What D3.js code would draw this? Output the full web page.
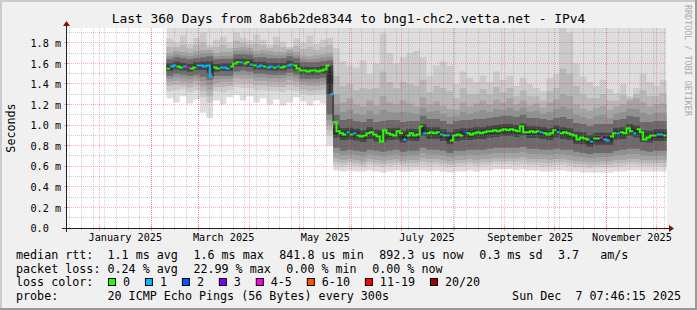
<!DOCTYPE html>
<html>
<head>
<meta charset="utf-8">
<script src="https://cdn.jsdelivr.net/npm/d3@7"></script>
<style>
  body { margin: 0; background: #f0f0f0; }
  svg text { font-family: "DejaVu Sans Mono", monospace; white-space: pre; }
</style>
</head>
<body>
<svg id="chart" width="697" height="310" xml:space="preserve"></svg>
<script>
// Step 1: chart values
//= ================================
var graphEnd = new Date(2025, 11, 7, 7, 46, 15);
var graphStart = d3.timeDay.offset(graphEnd, -360);

// first sample, median step and smoke step in days
var firstDay = new Date(2025, 1, 10);
var medianStep = 2;
var smokeStep = 4;

// median rtt in ms, one value every 2 days
var medianRtt = [
  1.55,1.57,1.58,1.57,1.56,1.57,1.56,1.55,1.56,1.58,
  1.58,1.57,1.58,1.47,1.56,1.55,1.56,1.56,1.55,1.57,
  1.60,1.61,1.61,1.60,1.61,1.59,1.58,1.57,1.58,1.57,
  1.56,1.57,1.56,1.57,1.56,1.57,1.58,1.59,1.58,1.55,
  1.53,1.53,1.52,1.53,1.53,1.52,1.53,1.54,1.58,1.30,
  1.03,0.94,0.92,0.91,0.93,0.91,0.92,0.90,0.89,0.90,
  0.92,0.93,0.91,0.89,0.84,0.95,0.92,0.91,0.90,0.94,
  0.92,0.86,0.90,0.92,0.90,0.91,0.99,0.92,0.92,0.93,
  0.92,0.93,0.91,0.90,0.90,0.85,0.90,0.91,0.90,0.93,
  0.92,0.91,0.92,0.93,0.92,0.93,0.94,0.94,0.95,0.94,
  0.95,0.96,0.95,0.96,0.95,0.94,0.99,0.93,0.93,0.94,
  0.93,0.94,0.93,0.92,0.91,0.92,0.95,0.93,0.92,0.93,
  0.92,0.91,0.90,0.86,0.88,0.87,0.86,0.84,0.87,0.87,
  0.88,0.86,0.85,0.89,0.92,0.92,0.93,0.92,0.97,0.94,
  0.92,0.96,0.93,0.86,0.88,0.90,0.90,0.91,0.91,0.90
];

// lost pings (of 20) for each median value
var lostPings = [
  0,1,1,0,0,1,4,0,0,1,
  1,1,1,1,0,0,1,1,1,0,
  0,0,1,0,0,1,0,1,1,0,
  1,1,0,1,0,0,1,1,0,0,
  0,0,0,0,0,0,0,0,0,1,
  0,0,0,0,1,0,1,0,0,0,
  0,0,0,0,0,0,0,0,0,0,
  0,1,0,0,0,0,0,1,0,0,
  0,0,1,0,1,0,0,0,0,2,
  0,0,0,0,0,0,0,0,0,0,
  0,0,0,0,0,0,0,0,0,0,
  0,0,1,0,0,0,0,1,0,0,
  0,0,0,0,0,0,0,1,0,0,
  4,1,1,0,0,1,0,0,0,0,
  1,0,0,0,0,0,0,1,1,0
];

// sorted pings in ms, one value every 4 days (ping1 fastest ... ping20 slowest)
var ping1 = [
  1.26,1.22,1.28,1.21,1.25,1.12,1.07,1.24,1.20,1.27,
  1.29,1.24,1.28,1.22,1.26,1.20,1.25,1.19,1.22,1.27,
  1.23,1.19,1.24,1.21,0.80,0.56,0.55,0.56,0.55,0.55,
  0.56,0.55,0.54,0.55,0.56,0.55,0.55,0.56,0.56,0.55,
  0.56,0.55,0.54,0.55,0.55,0.56,0.55,0.56,0.56,0.57,
  0.57,0.57,0.56,0.57,0.56,0.56,0.55,0.55,0.56,0.56,
  0.55,0.55,0.54,0.54,0.54,0.54,0.54,0.55,0.55,0.56,
  0.56,0.55,0.55,0.55,0.55
];
var ping2 = [
  1.33,1.34,1.35,1.32,1.34,1.27,1.22,1.33,1.32,1.34,
  1.37,1.36,1.36,1.34,1.34,1.33,1.33,1.32,1.34,1.33,
  1.30,1.29,1.30,1.30,0.90,0.61,0.60,0.61,0.60,0.59,
  0.61,0.60,0.59,0.60,0.61,0.60,0.60,0.60,0.61,0.60,
  0.61,0.60,0.59,0.60,0.60,0.61,0.60,0.61,0.61,0.62,
  0.62,0.62,0.61,0.62,0.61,0.61,0.60,0.60,0.61,0.61,
  0.60,0.59,0.59,0.58,0.59,0.59,0.59,0.60,0.60,0.61,
  0.61,0.60,0.60,0.60,0.60
];
var ping3 = [
  1.38,1.39,1.385,1.365,1.385,1.33,1.28,1.37,1.37,1.38,
  1.415,1.405,1.405,1.385,1.385,1.375,1.375,1.37,1.39,1.375,
  1.345,1.335,1.34,1.345,0.95,0.645,0.63,0.64,0.63,0.62,
  0.64,0.63,0.62,0.63,0.64,0.625,0.63,0.63,0.645,0.635,
  0.64,0.63,0.62,0.63,0.63,0.64,0.63,0.64,0.64,0.65,
  0.65,0.65,0.645,0.655,0.64,0.64,0.635,0.63,0.64,0.64,
  0.63,0.62,0.62,0.61,0.615,0.62,0.62,0.63,0.63,0.64,
  0.64,0.63,0.63,0.63,0.63
];
var ping4 = [
  1.42,1.43,1.42,1.41,1.43,1.38,1.34,1.41,1.42,1.42,
  1.46,1.45,1.45,1.43,1.43,1.42,1.42,1.42,1.44,1.42,
  1.39,1.38,1.38,1.39,1.00,0.68,0.66,0.67,0.66,0.65,
  0.67,0.66,0.65,0.66,0.67,0.65,0.66,0.66,0.68,0.67,
  0.67,0.66,0.65,0.66,0.66,0.67,0.66,0.67,0.67,0.68,
  0.68,0.68,0.68,0.69,0.67,0.67,0.67,0.66,0.67,0.67,
  0.66,0.65,0.65,0.64,0.64,0.65,0.65,0.66,0.66,0.67,
  0.67,0.66,0.66,0.66,0.66
];
var ping5 = [
  1.45,1.465,1.455,1.445,1.46,1.43,1.39,1.445,1.45,1.45,
  1.49,1.49,1.485,1.465,1.465,1.455,1.455,1.455,1.475,1.455,
  1.42,1.415,1.415,1.425,1.05,0.73,0.705,0.715,0.705,0.695,
  0.715,0.705,0.695,0.705,0.715,0.695,0.705,0.705,0.73,0.715,
  0.715,0.705,0.69,0.705,0.705,0.715,0.71,0.715,0.72,0.73,
  0.73,0.73,0.73,0.74,0.72,0.72,0.715,0.71,0.72,0.715,
  0.71,0.695,0.69,0.68,0.685,0.69,0.69,0.705,0.71,0.72,
  0.72,0.705,0.70,0.705,0.705
];
var ping7 = [
  1.48,1.50,1.49,1.48,1.49,1.47,1.44,1.48,1.48,1.48,
  1.52,1.53,1.52,1.50,1.50,1.49,1.49,1.49,1.51,1.49,
  1.45,1.45,1.45,1.46,1.10,0.78,0.75,0.76,0.75,0.74,
  0.76,0.75,0.74,0.75,0.76,0.74,0.75,0.75,0.78,0.76,
  0.76,0.75,0.73,0.75,0.75,0.76,0.76,0.76,0.77,0.78,
  0.78,0.78,0.78,0.79,0.77,0.77,0.76,0.76,0.77,0.76,
  0.76,0.74,0.73,0.72,0.73,0.73,0.73,0.75,0.76,0.77,
  0.77,0.75,0.74,0.75,0.75
];
var ping9 = [
  1.525,1.54,1.53,1.52,1.535,1.535,1.50,1.52,1.525,1.525,
  1.57,1.57,1.565,1.54,1.54,1.53,1.53,1.53,1.55,1.53,
  1.495,1.49,1.49,1.50,1.30,0.88,0.855,0.86,0.85,0.835,
  0.865,0.84,0.835,0.855,0.86,0.83,0.85,0.845,0.895,0.865,
  0.865,0.845,0.815,0.845,0.855,0.855,0.865,0.865,0.88,0.885,
  0.895,0.895,0.885,0.90,0.875,0.875,0.865,0.855,0.88,0.865,
  0.855,0.82,0.815,0.79,0.81,0.81,0.81,0.86,0.865,0.895,
  0.88,0.835,0.83,0.845,0.845
];
var ping10 = [
  1.55,1.565,1.555,1.545,1.56,1.56,1.54,1.545,1.55,1.55,
  1.595,1.595,1.59,1.565,1.565,1.555,1.555,1.555,1.575,1.555,
  1.52,1.515,1.515,1.525,1.40,0.91,0.885,0.89,0.88,0.865,
  0.895,0.87,0.865,0.885,0.89,0.86,0.88,0.875,0.925,0.895,
  0.895,0.875,0.845,0.875,0.885,0.885,0.895,0.895,0.91,0.915,
  0.925,0.925,0.915,0.93,0.905,0.905,0.895,0.885,0.91,0.895,
  0.885,0.85,0.845,0.82,0.84,0.84,0.84,0.89,0.895,0.925,
  0.91,0.865,0.86,0.875,0.875
];
var ping11 = [
  1.575,1.59,1.58,1.57,1.585,1.59,1.59,1.57,1.575,1.575,
  1.62,1.62,1.615,1.59,1.59,1.58,1.58,1.58,1.60,1.58,
  1.545,1.54,1.54,1.55,1.52,0.97,0.94,0.945,0.935,0.92,
  0.95,0.925,0.92,0.94,0.945,0.915,0.935,0.93,0.98,0.95,
  0.95,0.93,0.90,0.93,0.94,0.94,0.95,0.95,0.965,0.97,
  0.98,0.98,0.97,0.985,0.96,0.96,0.95,0.94,0.965,0.95,
  0.94,0.905,0.90,0.875,0.895,0.895,0.895,0.945,0.95,0.98,
  0.965,0.92,0.915,0.93,0.93
];
var ping12 = [
  1.60,1.615,1.605,1.595,1.61,1.615,1.62,1.595,1.60,1.60,
  1.645,1.645,1.64,1.615,1.615,1.605,1.605,1.605,1.625,1.605,
  1.57,1.565,1.565,1.575,1.58,1.00,0.97,0.975,0.965,0.95,
  0.98,0.955,0.95,0.97,0.975,0.945,0.965,0.96,1.01,0.98,
  0.98,0.96,0.93,0.96,0.97,0.97,0.98,0.98,0.995,1.00,
  1.01,1.01,1.00,1.015,0.99,0.99,0.98,0.97,0.995,0.98,
  0.97,0.935,0.93,0.905,0.925,0.925,0.925,0.975,0.98,1.01,
  0.995,0.95,0.945,0.96,0.96
];
var ping14 = [
  1.64,1.66,1.65,1.64,1.65,1.66,1.67,1.64,1.645,1.645,
  1.69,1.69,1.685,1.66,1.66,1.65,1.65,1.65,1.67,1.65,
  1.615,1.61,1.61,1.62,1.63,1.10,1.05,1.06,1.04,1.03,
  1.06,1.03,1.04,1.05,1.05,1.03,1.04,1.04,1.09,1.06,
  1.06,1.04,1.01,1.04,1.05,1.05,1.06,1.06,1.07,1.08,
  1.09,1.09,1.08,1.10,1.07,1.07,1.06,1.05,1.07,1.08,
  1.06,1.02,1.01,0.99,1.01,1.01,1.01,1.05,1.06,1.09,
  1.08,1.03,1.03,1.04,1.04
];
var ping16 = [
  1.67,1.69,1.68,1.67,1.685,1.695,1.70,1.67,1.675,1.675,
  1.72,1.725,1.715,1.69,1.695,1.685,1.68,1.68,1.70,1.68,
  1.645,1.64,1.645,1.655,1.665,1.20,1.13,1.15,1.11,1.10,
  1.14,1.10,1.15,1.13,1.12,1.13,1.12,1.11,1.17,1.13,
  1.14,1.11,1.08,1.09,1.13,1.11,1.13,1.15,1.13,1.16,
  1.15,1.17,1.14,1.17,1.13,1.14,1.11,1.13,1.16,1.18,
  1.16,1.10,1.08,1.06,1.09,1.10,1.07,1.11,1.13,1.16,
  1.16,1.12,1.10,1.12,1.12
];
var ping17 = [
  1.70,1.72,1.71,1.70,1.72,1.73,1.73,1.70,1.71,1.71,
  1.75,1.76,1.75,1.72,1.73,1.72,1.71,1.71,1.73,1.71,
  1.68,1.67,1.68,1.69,1.70,1.30,1.22,1.26,1.20,1.18,
  1.24,1.19,1.28,1.22,1.20,1.24,1.21,1.18,1.27,1.20,
  1.23,1.19,1.16,1.15,1.22,1.18,1.21,1.24,1.20,1.25,
  1.22,1.26,1.20,1.24,1.19,1.21,1.17,1.22,1.25,1.30,
  1.28,1.20,1.16,1.14,1.17,1.19,1.15,1.18,1.20,1.24,
  1.26,1.22,1.18,1.20,1.21
];
var ping18 = [
  1.76,1.76,1.78,1.745,1.78,1.80,1.755,1.76,1.78,1.75,
  1.82,1.80,1.78,1.79,1.78,1.75,1.78,1.76,1.745,1.77,
  1.74,1.76,1.73,1.76,1.78,1.48,1.38,1.40,1.34,1.36,
  1.35,1.36,1.52,1.42,1.36,1.42,1.40,1.38,1.44,1.32,
  1.38,1.36,1.33,1.26,1.36,1.30,1.30,1.35,1.30,1.37,
  1.32,1.36,1.28,1.34,1.28,1.28,1.24,1.33,1.36,1.55,
  1.50,1.38,1.30,1.26,1.26,1.30,1.24,1.24,1.29,1.26,
  1.30,1.34,1.28,1.28,1.31
];
var ping19 = [
  1.84,1.80,1.87,1.79,1.85,1.90,1.78,1.83,1.86,1.80,
  1.90,1.85,1.82,1.88,1.83,1.78,1.86,1.81,1.76,1.84,
  1.80,1.87,1.79,1.83,1.85,1.75,1.62,1.58,1.56,1.63,
  1.50,1.60,1.89,1.70,1.60,1.66,1.70,1.72,1.66,1.48,
  1.58,1.62,1.58,1.40,1.52,1.46,1.42,1.48,1.42,1.52,
  1.44,1.48,1.38,1.46,1.40,1.36,1.33,1.46,1.50,2.00,
  1.90,1.60,1.47,1.42,1.38,1.44,1.35,1.31,1.40,1.28,
  1.36,1.50,1.42,1.38,1.44
];
var ping20 = [
  2.0,2.0,2.0,2.0,2.0,2.0,2.0,2.0,2.0,2.0,
  2.0,2.0,2.0,2.0,2.0,2.0,2.0,2.0,2.0,2.0,
  2.0,2.0,2.0,2.0,2.0,2.0,2.0,2.0,2.0,2.0,
  2.0,2.0,2.0,2.0,2.0,2.0,2.0,2.0,2.0,2.0,
  2.0,2.0,2.0,2.0,2.0,2.0,2.0,2.0,2.0,2.0,
  2.0,2.0,2.0,2.0,2.0,2.0,2.0,2.0,2.0,2.0,
  2.0,2.0,2.0,2.0,2.0,2.0,2.0,2.0,2.0,2.0,
  2.0,2.0,2.0,2.0,2.0
];

var yMajor = [0, 0.2, 0.4, 0.6, 0.8, 1.0, 1.2, 1.4, 1.6, 1.8];
var yMinor = [0.1, 0.3, 0.5, 0.7, 0.9, 1.1, 1.3, 1.5, 1.7, 1.9];

var lossLabels = ["0", "1", "2", "3", "4-5", "6-10", "11-19", "20/20"];
var lossMax = [0, 1, 2, 3, 5, 10, 19, 20];
var lossColors = ["#26ff00", "#00b8ff", "#0059ff", "#7e00ff", "#ff00ea", "#ff5500", "#ff0000", "#a10000"];

var rttStats = ["1.1 ms avg", "1.6 ms max", "841.8 us min", "892.3 us now", "0.3 ms sd", "3.7   am/s"];
var lossStats = ["0.24 % avg", "22.99 % max", "0.00 % min", "0.00 % now"];
var probeText = "20 ICMP Echo Pings (56 Bytes) every 300s";
var stampText = "Sun Dec  7 07:46:15 2025";
var titleText = "Last 360 Days from 8ab6b2de8344 to bng1-chc2.vetta.net - IPv4";

// Step 2: layout and scales
//= ================================
var svgWidth = 697, svgHeight = 310;
var plotLeft = 67, plotRight = 667, plotTop = 28, plotBottom = 228;

var xScale = d3.scaleTime().domain([graphStart, graphEnd]).range([plotLeft, plotRight]);
var yScale = d3.scaleLinear().domain([0, 1.944]).range([plotBottom, plotTop]);

function snap(v) { return Math.round(v - 0.5) + 0.5; }

var svg = d3.select("#chart");

// background and 3d border
svg.append("rect").attr("width", svgWidth).attr("height", svgHeight).attr("fill", "#f0f0f0");
svg.append("rect").attr("x", 0).attr("y", 0).attr("width", svgWidth - 2).attr("height", 2).attr("fill", "#cbcbcb");
svg.append("rect").attr("x", 0).attr("y", 0).attr("width", 2).attr("height", svgHeight - 2).attr("fill", "#cbcbcb");
svg.append("rect").attr("x", svgWidth - 2).attr("y", 0).attr("width", 2).attr("height", svgHeight).attr("fill", "#999999");
svg.append("rect").attr("x", 0).attr("y", svgHeight - 2).attr("width", svgWidth).attr("height", 2).attr("fill", "#999999");

// canvas
svg.append("rect")
  .attr("x", plotLeft).attr("y", plotTop)
  .attr("width", plotRight - plotLeft).attr("height", plotBottom - plotTop)
  .attr("fill", "#ffffff");

svg.append("clipPath").attr("id", "plotClip")
  .append("rect")
  .attr("x", plotLeft).attr("y", plotTop)
  .attr("width", plotRight - plotLeft).attr("height", plotBottom - plotTop);

var plot = svg.append("g").attr("clip-path", "url(#plotClip)");

// Step 3: smoke, outer pair first
//= ================================
var smokePairs = [
  [ping1, ping20], [ping2, ping19], [ping3, ping18], [ping4, ping17],
  [ping5, ping16], [ping7, ping14], [ping9, ping12], [ping10, ping11]
];
var smokeShades = ["#dddddd", "#cacaca", "#b7b7b7", "#a4a4a4", "#919191", "#6b6b6b", "#454545", "#323232"];

var smokeArea = d3.area()
  .x(d => xScale(d.t))
  .y0(d => yScale(d.lo))
  .y1(d => yScale(d.hi))
  .curve(d3.curveStepAfter);

smokePairs.forEach(function(pair, j) {
  var rows = pair[0].map(function(lo, k) {
    return {t: d3.timeDay.offset(firstDay, k * smokeStep), lo: lo, hi: pair[1][k]};
  });
  var last = rows[rows.length - 1];
  rows.push({t: d3.timeDay.offset(last.t, smokeStep), lo: last.lo, hi: last.hi});
  plot.append("path")
    .datum(rows)
    .attr("d", smokeArea)
    .attr("fill", smokeShades[j]);
});

// Step 4: grid on top of the smoke
//= ================================
var grid = svg.append("g").attr("fill", "none").attr("stroke-width", 1).attr("stroke-dasharray", "1,1");
var minorColor = "rgba(140,140,140,0.42)";
var majorColor = "rgba(255,0,0,0.3)";

var weeks = d3.timeSaturday.range(graphStart, graphEnd);
var months = d3.timeMonth.range(graphStart, graphEnd);

grid.selectAll(".hminor").data(yMinor).enter().append("line")
  .attr("x1", plotLeft).attr("x2", plotRight)
  .attr("y1", d => snap(yScale(d))).attr("y2", d => snap(yScale(d)))
  .attr("stroke", minorColor);

grid.selectAll(".vminor").data(weeks).enter().append("line")
  .attr("x1", d => snap(xScale(d))).attr("x2", d => snap(xScale(d)))
  .attr("y1", plotTop).attr("y2", plotBottom)
  .attr("stroke", minorColor);

grid.selectAll(".hmajor").data(yMajor.slice(1)).enter().append("line")
  .attr("x1", plotLeft).attr("x2", plotRight)
  .attr("y1", d => snap(yScale(d))).attr("y2", d => snap(yScale(d)))
  .attr("stroke", majorColor);

grid.selectAll(".vmajor").data(months).enter().append("line")
  .attr("x1", d => snap(xScale(d))).attr("x2", d => snap(xScale(d)))
  .attr("y1", plotTop).attr("y2", plotBottom)
  .attr("stroke", majorColor);

// small ticks on the axes
var ticks = svg.append("g").attr("stroke-width", 1);
ticks.selectAll(".yt").data(yMajor.slice(1)).enter().append("line")
  .attr("x1", 64).attr("x2", 69).attr("y1", d => snap(yScale(d))).attr("y2", d => snap(yScale(d)))
  .attr("stroke", majorColor);
ticks.selectAll(".xt").data(months).enter().append("line")
  .attr("x1", d => snap(xScale(d))).attr("x2", d => snap(xScale(d))).attr("y1", 226).attr("y2", 231)
  .attr("stroke", majorColor);
ticks.selectAll(".xw").data(weeks).enter().append("line")
  .attr("x1", d => snap(xScale(d))).attr("x2", d => snap(xScale(d))).attr("y1", 227).attr("y2", 230)
  .attr("stroke", minorColor);

// Step 5: median line coloured by loss
//= ================================
function lossColor(n) {
  var i = lossMax.findIndex(m => n <= m);
  return lossColors[i < 0 ? lossColors.length - 1 : i];
}

var med = medianRtt.map(function(v, i) {
  return {t: d3.timeDay.offset(firstDay, i * medianStep), v: v, c: lossColor(lostPings[i])};
});
var medEnd = {t: d3.timeDay.offset(med[med.length - 1].t, medianStep), v: med[med.length - 1].v};

var medLine = d3.line()
  .x(d => xScale(d.t))
  .y(d => yScale(d.v))
  .curve(d3.curveStepAfter);

plot.append("path")
  .datum(med.concat([medEnd]))
  .attr("d", medLine)
  .attr("fill", "none")
  .attr("stroke", "#1a1a1a")
  .attr("stroke-width", 1);

// runs of equal loss colour
var runs = [];
med.forEach(function(d, i) {
  var next = i + 1 < med.length ? med[i + 1] : medEnd;
  var endPt = {t: next.t, v: d.v};
  if (runs.length && runs[runs.length - 1].c === d.c) {
    var r = runs[runs.length - 1];
    r.pts.pop();
    r.pts.push(d, endPt);
  } else {
    runs.push({c: d.c, pts: [d, endPt]});
  }
});

plot.selectAll(".medrun").data(runs).enter().append("path")
  .attr("d", r => medLine(r.pts))
  .attr("fill", "none")
  .attr("stroke", r => r.c)
  .attr("stroke-width", 2);

// Step 6: axes
//= ================================
svg.append("line").attr("x1", 62).attr("x2", 671).attr("y1", 228.5).attr("y2", 228.5)
  .attr("stroke", "#202020").attr("stroke-width", 1);
svg.append("line").attr("x1", 66.5).attr("x2", 66.5).attr("y1", 232).attr("y2", 24)
  .attr("stroke", "#202020").attr("stroke-width", 1);
svg.append("path").attr("d", "M669,225L674,228.5L669,232Z").attr("fill", "#801010");
svg.append("path").attr("d", "M63,26L66.5,21L70,26Z").attr("fill", "#801010");

var yAxis = d3.axisLeft(yScale)
  .tickValues(yMajor)
  .tickFormat(d => d === 0 ? "0.0" : d3.format(".1f")(d) + " m")
  .tickSize(0);
svg.append("g")
  .attr("transform", "translate(61,0)")
  .call(yAxis)
  .call(g => g.select(".domain").remove())
  .selectAll("text")
  .attr("x", -30.6)
  .attr("dy", "0.36em")
  .attr("text-anchor", "start")
  .attr("font-family", "DejaVu Sans Mono")
  .attr("font-size", "10.2px")
  .attr("fill", "#000");

var labelMonths = d3.timeMonth.every(2).range(new Date(2025, 0, 1), graphEnd);
var xAxis = d3.axisBottom(xScale)
  .tickValues(labelMonths.map(m => d3.timeDay.offset(m, 15)))
  .tickFormat(d3.timeFormat("%B %Y"))
  .tickSize(0);
svg.append("g")
  .attr("transform", "translate(0,241)")
  .call(xAxis)
  .call(g => g.select(".domain").remove())
  .selectAll("text")
  .attr("y", 0)
  .attr("dy", 0)
  .attr("font-family", "DejaVu Sans Mono")
  .attr("font-size", "10.2px")
  .attr("fill", "#000");

// Step 7: titles
//= ================================
svg.append("text")
  .attr("x", 348.5).attr("y", 22.5)
  .attr("text-anchor", "middle")
  .attr("font-size", "12.9px")
  .text(titleText);

svg.append("text")
  .attr("transform", "translate(15,128) rotate(-90)")
  .attr("text-anchor", "middle")
  .attr("font-size", "11.7px")
  .text("Seconds");

svg.append("text")
  .attr("transform", "translate(685,5) rotate(90)")
  .attr("font-size", "8.4px")
  .attr("fill", "#aaaaaa")
  .text("RRDTOOL / TOBI OETIKER");

// Step 8: legend
//= ================================
var legendRows = [259, 272.7, 286.3, 300];
var legend = svg.append("g").attr("font-size", "11.7px").attr("fill", "#000");
var valueCol = 107.5, itemGap = 15.5;

function placeRow(items, y) {
  var xPos = valueCol;
  items.forEach(function(s) {
    var t = legend.append("text").attr("x", xPos).attr("y", y).text(s);
    xPos += t.node().getComputedTextLength() + itemGap;
  });
}

legend.append("text").attr("x", 16).attr("y", legendRows[0]).text("median rtt:");
placeRow(rttStats, legendRows[0]);
legend.append("text").attr("x", 16).attr("y", legendRows[1]).text("packet loss:");
placeRow(lossStats, legendRows[1]);

legend.append("text").attr("x", 16).attr("y", legendRows[2]).text("loss color:");
var boxX = 108;
lossLabels.forEach(function(lab, i) {
  legend.append("rect")
    .attr("x", boxX + 0.5).attr("y", legendRows[2] - 7.8)
    .attr("width", 7).attr("height", 7)
    .attr("fill", lossColors[i])
    .attr("stroke", "#000").attr("stroke-width", 1);
  var t = legend.append("text").attr("x", boxX + 15).attr("y", legendRows[2]).text(lab);
  boxX += 15 + t.node().getComputedTextLength() + 14.9;
});

legend.append("text").attr("x", 16).attr("y", legendRows[3]).text("probe:");
legend.append("text").attr("x", valueCol).attr("y", legendRows[3]).text(probeText);
legend.append("text").attr("x", 681).attr("y", legendRows[3]).attr("text-anchor", "end").text(stampText);
</script>
</body>
</html>
